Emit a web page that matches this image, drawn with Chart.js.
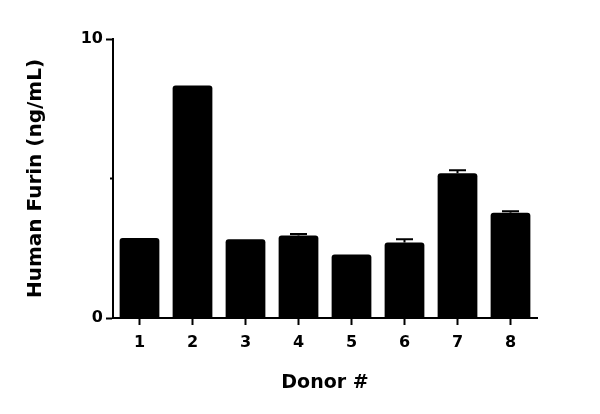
<!DOCTYPE html>
<html>
<head>
<meta charset="utf-8">
<script src="https://cdn.jsdelivr.net/npm/chart.js@4"></script>
<style>
  html, body { margin: 0; padding: 0; background: #fff; }
  #wrap { width: 600px; height: 414px; }
</style>
</head>
<body>
<div id="wrap"><canvas id="furinChart" width="600" height="414"></canvas></div>
<script>
const donors = ['1', '2', '3', '4', '5', '6', '7', '8'];
const furinMean = [2.87, 8.33, 2.82, 2.96, 2.28, 2.71, 5.19, 3.77];
const furinErr = [0, 0, 0, 0.05, 0, 0.11, 0.11, 0.06];
const yTicks = [0, 5, 10];

const FONT = '"DejaVu Sans", sans-serif';

// upper error bars + short minor tick at 5
const errorBars = {
    id: 'errorBars',
    afterDatasetsDraw(chart) {
        const ctx = chart.ctx;
        const x = chart.scales.x, y = chart.scales.y;
        ctx.save();
        ctx.strokeStyle = '#000';
        ctx.lineWidth = 2;
        furinMean.forEach((v, i) => {
            if (!furinErr[i]) return;
            const cx = x.getPixelForValue(i);
            const top = y.getPixelForValue(v + furinErr[i]);
            const base = y.getPixelForValue(v);
            ctx.beginPath();
            ctx.moveTo(cx, base);
            ctx.lineTo(cx, top);
            ctx.moveTo(cx - 8.5, top);
            ctx.lineTo(cx + 8.5, top);
            ctx.stroke();
        });
        const my = y.getPixelForValue(5);
        ctx.beginPath();
        ctx.moveTo(y.right - 3, my);
        ctx.lineTo(y.right, my);
        ctx.stroke();
        ctx.restore();
    }
};

new Chart(document.getElementById('furinChart'), {
    type: 'bar',
    data: {
        labels: donors,
        datasets: [{
            data: furinMean,
            backgroundColor: '#000',
            borderWidth: 0,
            borderRadius: 3,
            borderSkipped: 'bottom',
            barPercentage: 0.75,
            categoryPercentage: 1
        }]
    },
    options: {
        responsive: false,
        animation: false,
        layout: { padding: { top: 39, right: 63, bottom: 0, left: 0 } },
        plugins: { legend: { display: false }, tooltip: { enabled: false } },
        scales: {
            x: {
                afterFit(s) { s.height = 96; },
                grid: {
                    offset: false,
                    drawOnChartArea: false,
                    tickLength: 7,
                    tickWidth: 2,
                    tickColor: '#000'
                },
                border: { color: '#000', width: 2 },
                ticks: {
                    color: '#000',
                    padding: 8,
                    maxRotation: 0,
                    font: { family: FONT, size: 16, weight: 'bold' }
                },
                title: {
                    display: true,
                    text: 'Donor #',
                    color: '#000',
                    padding: { top: 0, bottom: 20 },
                    font: { family: FONT, size: 19, weight: 'bold' }
                }
            },
            y: {
                min: 0,
                max: 10,
                afterFit(s) { s.width = 113; },
                afterBuildTicks(s) { s.ticks = yTicks.map(v => ({ value: v })); },
                grid: {
                    drawOnChartArea: false,
                    tickLength: 7,
                    tickWidth: 2,
                    tickColor: c => (c.tick && c.tick.value === 5) ? 'rgba(0,0,0,0)' : '#000'
                },
                border: { color: '#000', width: 2 },
                ticks: {
                    color: '#000',
                    padding: 3,
                    callback: v => (v === 5 ? '' : v),
                    font: { family: FONT, size: 16, weight: 'bold' }
                },
                title: {
                    display: true,
                    text: 'Human Furin (ng/mL)',
                    color: '#000',
                    padding: { top: 24, bottom: 0 },
                    font: { family: FONT, size: 20, weight: 'bold' }
                }
            }
        }
    },
    plugins: [errorBars]
});
</script>
</body>
</html>
